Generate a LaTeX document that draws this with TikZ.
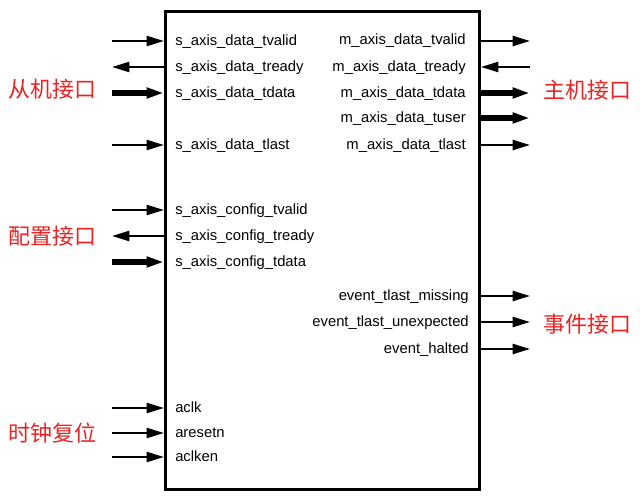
\documentclass[tikz,border=0pt]{standalone}
\usepackage{fontspec}
\setmainfont{Liberation Sans}
\newfontfamily\cjk{Noto Sans CJK SC}
\usetikzlibrary{arrows.meta,positioning}
\definecolor{grpred}{RGB}{232,36,36}

\tikzset{
  port/.style={font=\fontsize{11.1}{13}\selectfont, inner sep=0pt},
  grp/.style={font=\cjk\fontsize{16.5}{18}\selectfont, text=grpred, inner sep=0pt},
  wire/.style={line width=1.7pt},
  bus/.style={line width=4pt},
  tip/.style={-{Triangle[length=13pt,width=7.5pt]}},
  rtip/.style={{Triangle[length=13pt,width=7.5pt]}-},
}

\begin{document}
\begin{tikzpicture}[x=0.75pt,y=-0.75pt]
\useasboundingbox (0,0) rectangle (640,496);
\node[draw, line width=2.2pt, inner sep=0pt, anchor=north west,
      minimum width=235.5pt, minimum height=358.5pt] (core) at (164,10) {};

% slave side
\node[port,anchor=base west] (sdvalid) at (175,45.5) {s\_axis\_data\_tvalid};
\node[port,anchor=base west] (sdready) at (175,71.5) {s\_axis\_data\_tready};
\node[port,anchor=base west] (sddata) at (175,97.5) {s\_axis\_data\_tdata};
\node[port,anchor=base west] (sdlast) at (175,149.5) {s\_axis\_data\_tlast};
\node[port,anchor=base west] (scvalid) at (175,214.5) {s\_axis\_config\_tvalid};
\node[port,anchor=base west] (scready) at (175,240.5) {s\_axis\_config\_tready};
\node[port,anchor=base west] (scdata) at (175,266.5) {s\_axis\_config\_tdata};
\node[port,anchor=base west] (aclk) at (175,412.5) {aclk};
\node[port,anchor=base west] (aresetn) at (175,437.5) {aresetn};
\node[port,anchor=base west] (aclken) at (175,461.5) {aclken};

\coordinate (sdvalid-p) at (112,41);
\coordinate (sdready-p) at (112,67);
\coordinate (sddata-p) at (112,93);
\coordinate (sdlast-p) at (112,145);
\coordinate (scvalid-p) at (112,210);
\coordinate (scready-p) at (112,236);
\coordinate (scdata-p) at (112,262);
\coordinate (aclk-p) at (112,408);
\coordinate (aresetn-p) at (112,433);
\coordinate (aclken-p) at (112,457);

\draw[wire,tip] (sdvalid-p) -- (sdvalid-p -| core.west);
\draw[wire,rtip] (sdready-p) -- (sdready-p -| core.west);
\draw[bus,tip] (sddata-p) -- (sddata-p -| core.west);
\draw[wire,tip] (sdlast-p) -- (sdlast-p -| core.west);
\draw[wire,tip] (scvalid-p) -- (scvalid-p -| core.west);
\draw[wire,rtip] (scready-p) -- (scready-p -| core.west);
\draw[bus,tip] (scdata-p) -- (scdata-p -| core.west);
\draw[wire,tip] (aclk-p) -- (aclk-p -| core.west);
\draw[wire,tip] (aresetn-p) -- (aresetn-p -| core.west);
\draw[wire,tip] (aclken-p) -- (aclken-p -| core.west);

% master side
\node[port,anchor=base east] (mdvalid) at (466,45) {m\_axis\_data\_tvalid};
\node[port,anchor=base east] (mdready) at (466,71) {m\_axis\_data\_tready};
\node[port,anchor=base east] (mddata) at (466,97) {m\_axis\_data\_tdata};
\node[port,anchor=base east] (mduser) at (466,122) {m\_axis\_data\_tuser};
\node[port,anchor=base east] (mdlast) at (466,149) {m\_axis\_data\_tlast};
\node[port,anchor=base east] (evmiss) at (469,300) {event\_tlast\_missing};
\node[port,anchor=base east] (evunexp) at (469,326) {event\_tlast\_unexpected};
\node[port,anchor=base east] (evhalt) at (469,353) {event\_halted};

\coordinate (mdvalid-p) at (530,41);
\coordinate (mdready-p) at (530,67);
\coordinate (mddata-p) at (530,93);
\coordinate (mduser-p) at (530,118);
\coordinate (mdlast-p) at (530,145);
\coordinate (evmiss-p) at (530,296);
\coordinate (evunexp-p) at (530,322);
\coordinate (evhalt-p) at (530,349);

\draw[wire,tip] (mdvalid-p -| core.east) -- (mdvalid-p);
\draw[wire,rtip] (mdready-p -| core.east) -- (mdready-p);
\draw[bus,tip] (mddata-p -| core.east) -- (mddata-p);
\draw[bus,tip] (mduser-p -| core.east) -- (mduser-p);
\draw[wire,tip] (mdlast-p -| core.east) -- (mdlast-p);
\draw[wire,tip] (evmiss-p -| core.east) -- (evmiss-p);
\draw[wire,tip] (evunexp-p -| core.east) -- (evunexp-p);
\draw[wire,tip] (evhalt-p -| core.east) -- (evhalt-p);

% interface groups
\node[grp,anchor=west] (slave) at (8,89) {从机接口};
\node[grp,anchor=west] (config) at (8,236) {配置接口};
\node[grp,anchor=west] (clkrst) at (8,433) {时钟复位};
\node[grp,anchor=east] (master) at (632,90) {主机接口};
\node[grp,anchor=east] (event) at (632,324) {事件接口};
\end{tikzpicture}
\end{document}
